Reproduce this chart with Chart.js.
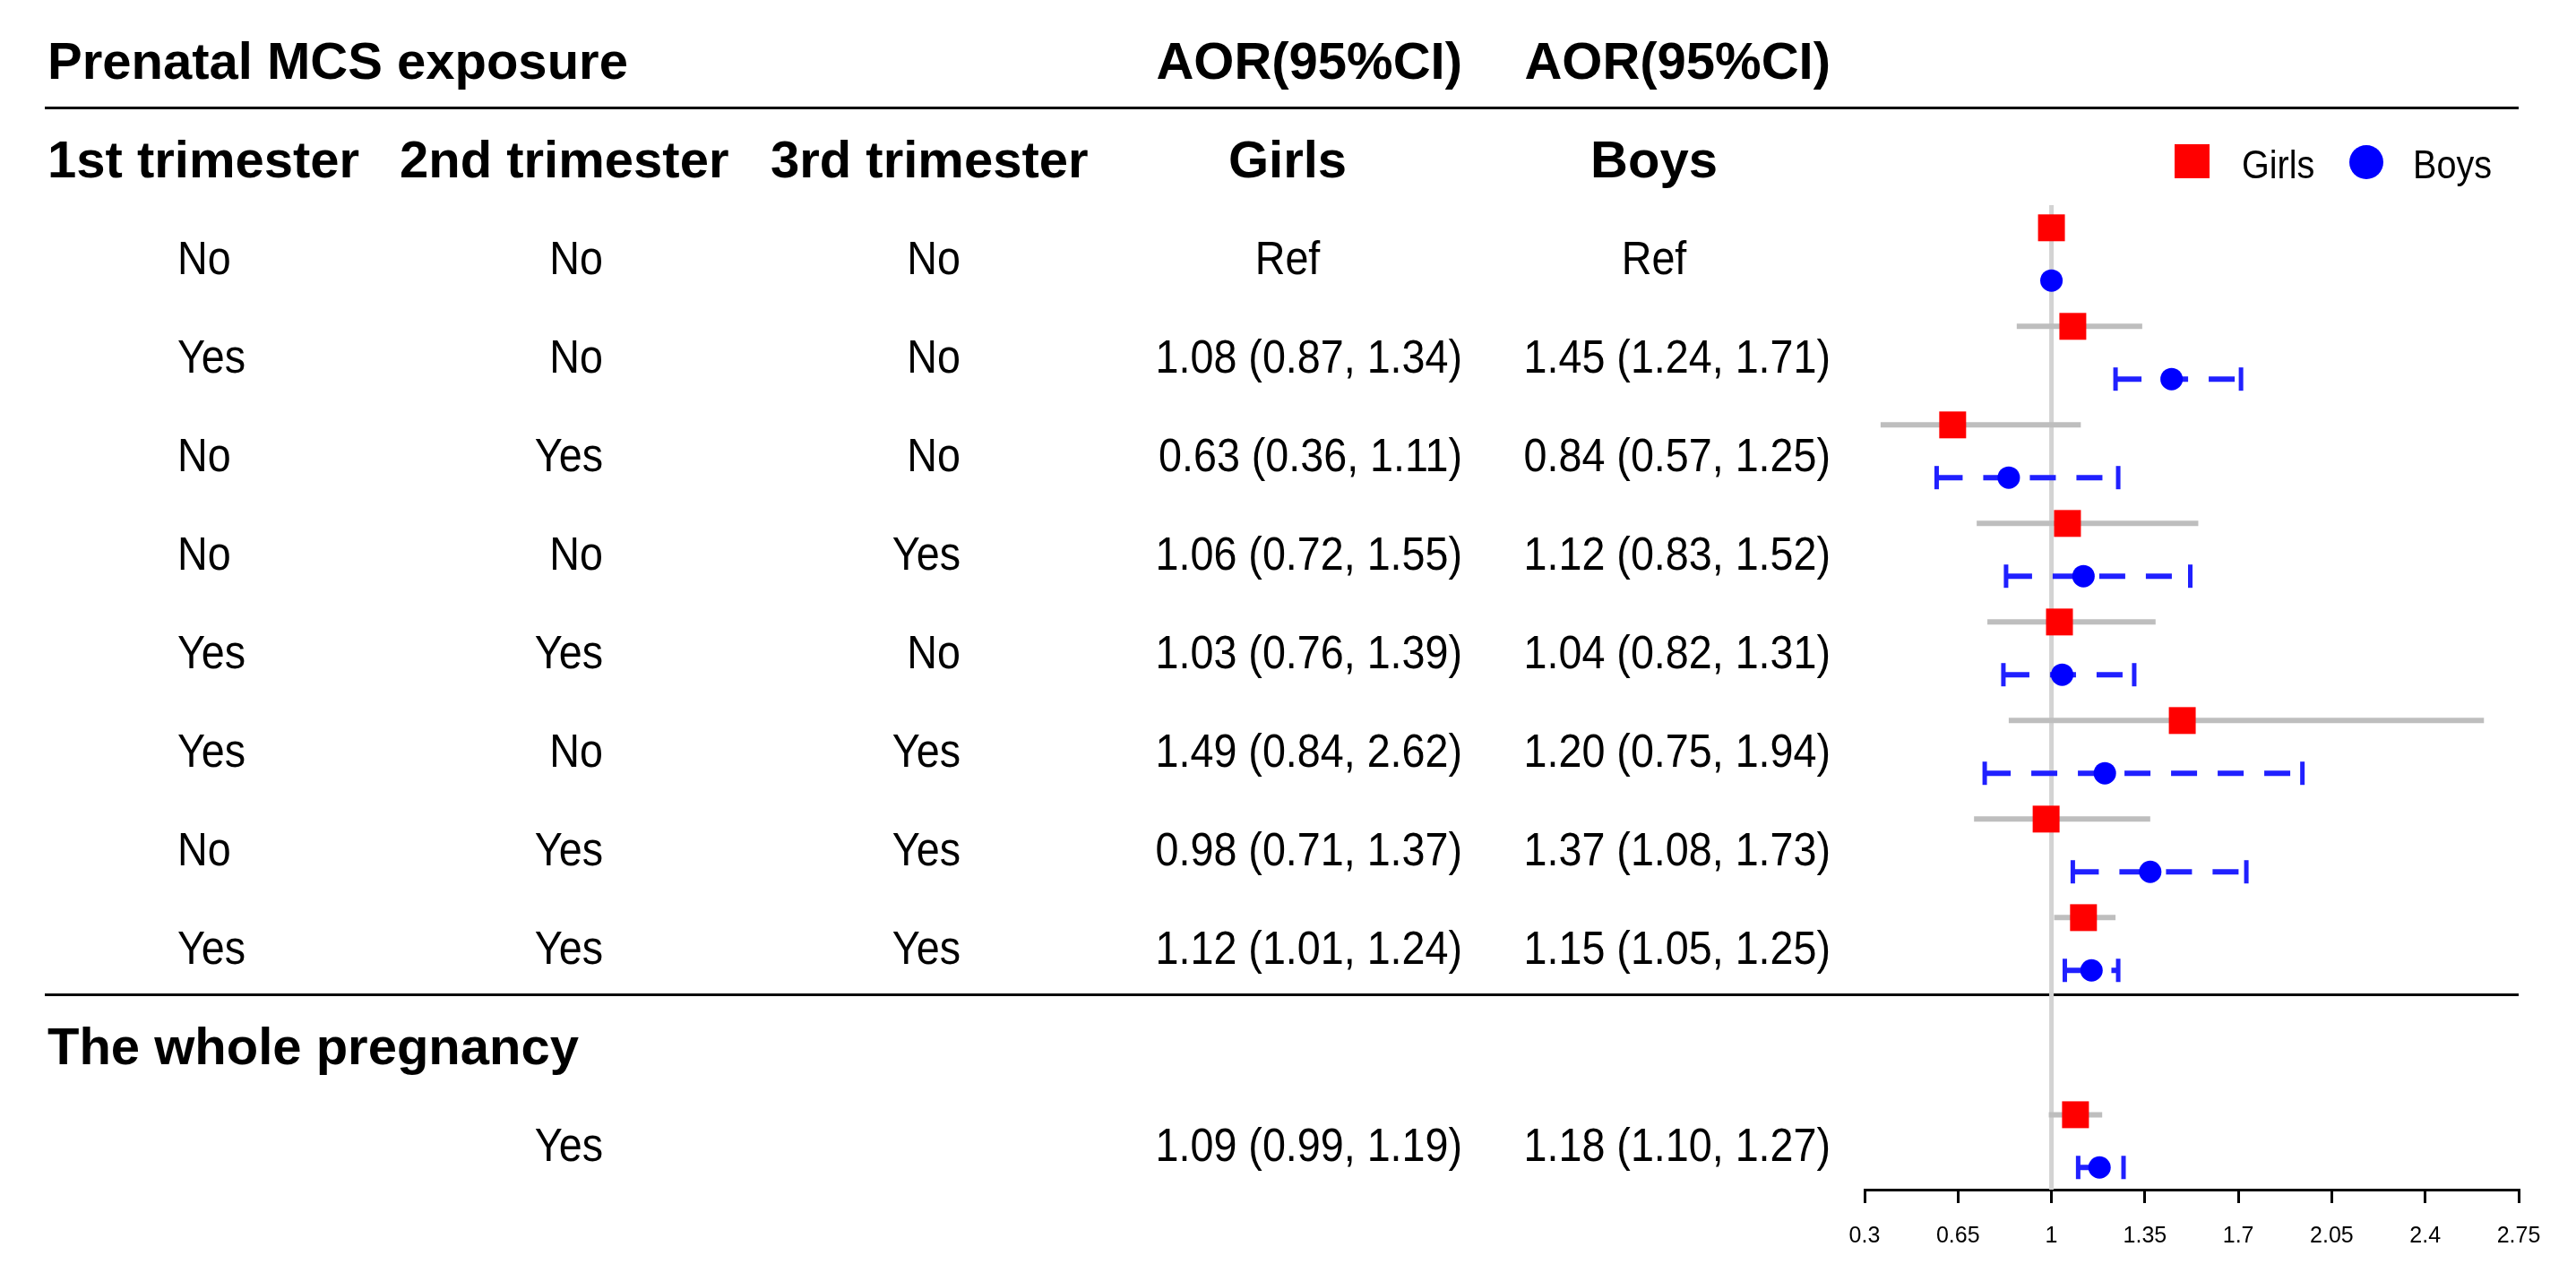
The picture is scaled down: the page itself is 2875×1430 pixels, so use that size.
<!DOCTYPE html>
<html>
<head>
<meta charset="utf-8">
<title>Prenatal MCS exposure forest plot</title>
<script src="https://cdn.jsdelivr.net/npm/chart.js@4/dist/chart.umd.min.js"></script>
<style>
  html, body { margin: 0; padding: 0; background: #fff; overflow: hidden; }
  canvas { display: block; }
</style>
</head>
<body>
<canvas id="forest" width="2875" height="1430"></canvas>
<script>
/* =========================
   data
========================= */
const trimester1 = ["No", "Yes", "No", "No", "Yes", "Yes", "No", "Yes"];
const trimester2 = ["No", "No", "Yes", "No", "Yes", "No", "Yes", "Yes"];
const trimester3 = ["No", "No", "No", "Yes", "No", "Yes", "Yes", "Yes"];
const wholePregnancy = ["Yes"];

/* last entry = the whole pregnancy row; null = reference group */
const girlsAOR = [1, 1.08, 0.63, 1.06, 1.03, 1.49, 0.98, 1.12, 1.09];
const girlsLow = [null, 0.87, 0.36, 0.72, 0.76, 0.84, 0.71, 1.01, 0.99];
const girlsHigh = [null, 1.34, 1.11, 1.55, 1.39, 2.62, 1.37, 1.24, 1.19];

const boysAOR = [1, 1.45, 0.84, 1.12, 1.04, 1.20, 1.37, 1.15, 1.18];
const boysLow = [null, 1.24, 0.57, 0.83, 0.82, 0.75, 1.08, 1.05, 1.10];
const boysHigh = [null, 1.71, 1.25, 1.52, 1.31, 1.94, 1.73, 1.25, 1.27];

const xTicks = [0.3, 0.65, 1, 1.35, 1.7, 2.05, 2.4, 2.75];
const seriesNames = ["Girls", "Boys"];

/* =========================
   layout (pixels / row units)
========================= */
const ROW_OF = [0, 1, 2, 3, 4, 5, 6, 7, 9];   // row index of each estimate
const GIRLS_SHIFT = -0.3;
const BOYS_SHIFT = 0.235;
const RULES = [-1.52, 7.48];
const FONT = '"Liberation Sans", Arial, Helvetica, sans-serif';
const BOLD = 58, PLAIN = 51, PLAIN_SX = 0.915;

const COL = {
  t1: 198, t2: 673, t3: 1072,          // data columns (left / right / right)
  h1: 53, h2: 446, h3: 860,            // header lefts
  girlsRight: 1632, girlsMid: 1437,
  boysRight: 2043, boysMid: 1846
};

function fmtCI(or, lo, hi) {
  if (lo === null) return "Ref";
  return `${or.toFixed(2)} (${lo.toFixed(2)}, ${hi.toFixed(2)})`;
}

/* draws text with its cap-height centred on py; plain text is a little narrow in the original */
function textAt(ctx, str, x, py, size, bold, align) {
  const sx = bold ? 1 : PLAIN_SX;
  ctx.save();
  ctx.font = `${bold ? "bold " : ""}${size}px ${FONT}`;
  ctx.textAlign = align;
  ctx.textBaseline = "alphabetic";
  ctx.translate(x, py + size * 0.36);
  ctx.scale(sx, 1);
  ctx.fillText(str, 0, 0);
  ctx.restore();
}

/* --- plugin: table text, rules, reference line, CI bars, legend --- */
const forestPlugin = {
  id: "forestTable",
  beforeDatasetsDraw(chart) {
    const { ctx, chartArea, scales: { x, y } } = chart;
    ctx.save();

    // horizontal rules
    ctx.strokeStyle = "#000";
    ctx.lineWidth = 3;
    RULES.forEach(r => {
      const py = Math.round(y.getPixelForValue(r)) + 0.5;
      ctx.beginPath();
      ctx.moveTo(50, py);
      ctx.lineTo(chartArea.right, py);
      ctx.stroke();
    });

    // no-effect line at 1
    ctx.strokeStyle = "#d3d3d3";
    ctx.lineWidth = 5;
    const x1 = x.getPixelForValue(1);
    ctx.beginPath();
    ctx.moveTo(x1, chartArea.top);
    ctx.lineTo(x1, chartArea.bottom);
    ctx.stroke();

    // girls CI (solid grey)
    ctx.strokeStyle = "#bebebe";
    ctx.lineWidth = 6;
    girlsAOR.forEach((_, i) => {
      if (girlsLow[i] === null) return;
      const py = y.getPixelForValue(ROW_OF[i] + GIRLS_SHIFT);
      ctx.beginPath();
      ctx.moveTo(x.getPixelForValue(girlsLow[i]), py);
      ctx.lineTo(x.getPixelForValue(girlsHigh[i]), py);
      ctx.stroke();
    });

    // boys CI (dashed blue with end caps)
    ctx.strokeStyle = "#2020ff";
    boysAOR.forEach((_, i) => {
      if (boysLow[i] === null) return;
      const py = y.getPixelForValue(ROW_OF[i] + BOYS_SHIFT);
      const xl = x.getPixelForValue(boysLow[i]);
      const xh = x.getPixelForValue(boysHigh[i]);
      ctx.lineWidth = 6;
      ctx.setLineDash([29, 23]);
      ctx.beginPath();
      ctx.moveTo(xl, py);
      ctx.lineTo(xh, py);
      ctx.stroke();
      ctx.setLineDash([]);
      ctx.lineWidth = 5;
      [xl, xh].forEach(cx => {
        ctx.beginPath();
        ctx.moveTo(cx, py - 13);
        ctx.lineTo(cx, py + 13);
        ctx.stroke();
      });
    });
    ctx.restore();
  },
  afterDraw(chart) {
    const { ctx, scales: { y } } = chart;
    ctx.save();
    ctx.fillStyle = "#000";
    const row = k => y.getPixelForValue(k);

    // header lines
    textAt(ctx, "Prenatal MCS exposure", COL.h1, row(-2), BOLD, true, "left");
    textAt(ctx, "AOR(95%CI)", COL.girlsRight, row(-2), BOLD, true, "right");
    textAt(ctx, "AOR(95%CI)", COL.boysRight, row(-2), BOLD, true, "right");
    textAt(ctx, "1st trimester", COL.h1, row(-1), BOLD, true, "left");
    textAt(ctx, "2nd trimester", COL.h2, row(-1), BOLD, true, "left");
    textAt(ctx, "3rd trimester", COL.h3, row(-1), BOLD, true, "left");
    textAt(ctx, seriesNames[0], COL.girlsMid, row(-1), BOLD, true, "center");
    textAt(ctx, seriesNames[1], COL.boysMid, row(-1), BOLD, true, "center");

    // trimester rows
    trimester1.forEach((v, i) => {
      const py = row(ROW_OF[i]);
      textAt(ctx, v, COL.t1, py, PLAIN, false, "left");
      textAt(ctx, trimester2[i], COL.t2, py, PLAIN, false, "right");
      textAt(ctx, trimester3[i], COL.t3, py, PLAIN, false, "right");
    });

    // whole pregnancy
    textAt(ctx, "The whole pregnancy", COL.h1, row(8), BOLD, true, "left");
    textAt(ctx, wholePregnancy[0], COL.t2, row(9), PLAIN, false, "right");

    // AOR columns
    girlsAOR.forEach((v, i) => {
      const py = row(ROW_OF[i]);
      const g = fmtCI(v, girlsLow[i], girlsHigh[i]);
      const b = fmtCI(boysAOR[i], boysLow[i], boysHigh[i]);
      if (g === "Ref") textAt(ctx, g, COL.girlsMid, py, PLAIN, false, "center");
      else textAt(ctx, g, COL.girlsRight, py, PLAIN, false, "right");
      if (b === "Ref") textAt(ctx, b, COL.boysMid, py, PLAIN, false, "center");
      else textAt(ctx, b, COL.boysRight, py, PLAIN, false, "right");
    });

    // legend
    ctx.fillStyle = "#ff0000";
    ctx.fillRect(2427, 161, 39, 38);
    ctx.fillStyle = "#0000ff";
    ctx.beginPath();
    ctx.arc(2641, 181, 19, 0, Math.PI * 2);
    ctx.fill();
    ctx.fillStyle = "#000";
    [[seriesNames[0], 2502], [seriesNames[1], 2693]].forEach(([s, lx]) => {
      ctx.save();
      ctx.font = `45px ${FONT}`;
      ctx.textAlign = "left";
      ctx.textBaseline = "alphabetic";
      ctx.translate(lx, 199);
      ctx.scale(0.88, 1);
      ctx.fillText(s, 0, 0);
      ctx.restore();
    });
    ctx.restore();
  }
};

/* --- chart --- */
const girlsPoints = girlsAOR.map((v, i) => ({ x: v, y: ROW_OF[i] + GIRLS_SHIFT }));
const boysPoints = boysAOR.map((v, i) => ({ x: v, y: ROW_OF[i] + BOYS_SHIFT }));

new Chart(document.getElementById("forest").getContext("2d"), {
  type: "scatter",
  data: {
    datasets: [
      {
        label: seriesNames[0],
        data: girlsPoints,
        pointStyle: "rect",
        pointRadius: 21.2,
        pointHoverRadius: 21.2,
        backgroundColor: "#ff0000",
        borderWidth: 0
      },
      {
        label: seriesNames[1],
        data: boysPoints,
        pointStyle: "circle",
        pointRadius: 12.5,
        pointHoverRadius: 12.5,
        backgroundColor: "#0000ff",
        borderWidth: 0
      }
    ]
  },
  options: {
    responsive: false,
    animation: false,
    devicePixelRatio: 1,
    layout: { padding: { left: 2081, right: 64, top: 229, bottom: 0 } },
    plugins: { legend: { display: false }, tooltip: { enabled: false } },
    scales: {
      x: {
        type: "linear",
        min: 0.3,
        max: 2.75,
        afterBuildTicks: s => { s.ticks = xTicks.map(v => ({ value: v })); },
        afterFit: s => { s.height = 102; },
        grid: { drawOnChartArea: false, drawTicks: true, tickLength: 15, color: "#000", lineWidth: 3 },
        border: { display: true, color: "#000", width: 3 },
        ticks: {
          color: "#000",
          font: { family: FONT, size: 25 },
          padding: 22,
          maxRotation: 0,
          autoSkip: false,
          callback: v => `${v}`
        }
      },
      y: {
        type: "linear",
        display: false,
        reverse: true,
        min: -0.53,
        max: 9.46
      }
    }
  },
  plugins: [forestPlugin]
});
</script>
</body>
</html>
